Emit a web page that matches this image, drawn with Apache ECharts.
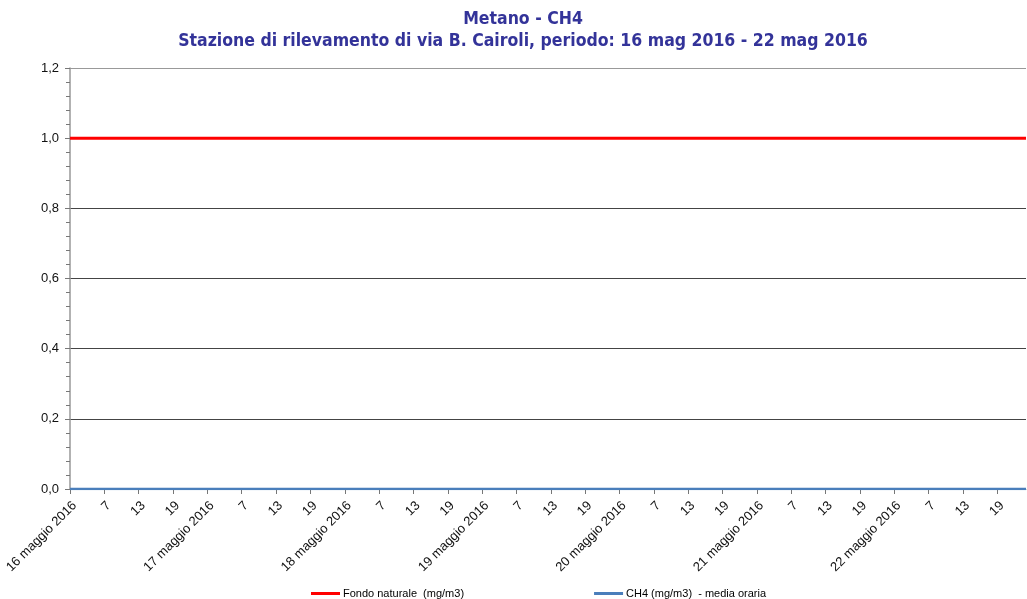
<!DOCTYPE html>
<html>
<head>
<meta charset="utf-8">
<script src="https://cdn.jsdelivr.net/npm/echarts@6/dist/echarts.min.js"></script>
<style>html,body{margin:0;padding:0;background:#fff}#c{width:1027px;height:599px}</style>
</head>
<body>
<div id="c"></div>
<script>
var days = ['16 maggio 2016','17 maggio 2016','18 maggio 2016','19 maggio 2016','20 maggio 2016','21 maggio 2016','22 maggio 2016'];
var hours = [1,2,3,4,5,6,7,8,9,10,11,12,13,14,15,16,17,18,19,20,21,22,23,24];
var yTicks = [0,0.2,0.4,0.6,0.8,1.0,1.2];
var fondoNaturale = [
1,1,1,1,1,1,1,1,1,1,1,1,1,1,1,1,1,1,1,1,1,1,1,1,
1,1,1,1,1,1,1,1,1,1,1,1,1,1,1,1,1,1,1,1,1,1,1,1,
1,1,1,1,1,1,1,1,1,1,1,1,1,1,1,1,1,1,1,1,1,1,1,1,
1,1,1,1,1,1,1,1,1,1,1,1,1,1,1,1,1,1,1,1,1,1,1,1,
1,1,1,1,1,1,1,1,1,1,1,1,1,1,1,1,1,1,1,1,1,1,1,1,
1,1,1,1,1,1,1,1,1,1,1,1,1,1,1,1,1,1,1,1,1,1,1,1,
1,1,1,1,1,1,1,1,1,1,1,1,1,1,1,1,1,1,1,1,1,1,1,1
];
var ch4 = [
0,0,0,0,0,0,0,0,0,0,0,0,0,0,0,0,0,0,0,0,0,0,0,0,
0,0,0,0,0,0,0,0,0,0,0,0,0,0,0,0,0,0,0,0,0,0,0,0,
0,0,0,0,0,0,0,0,0,0,0,0,0,0,0,0,0,0,0,0,0,0,0,0,
0,0,0,0,0,0,0,0,0,0,0,0,0,0,0,0,0,0,0,0,0,0,0,0,
0,0,0,0,0,0,0,0,0,0,0,0,0,0,0,0,0,0,0,0,0,0,0,0,
0,0,0,0,0,0,0,0,0,0,0,0,0,0,0,0,0,0,0,0,0,0,0,0,
0,0,0,0,0,0,0,0,0,0,0,0,0,0,0,0,0,0,0,0,0,0,0,0
];
var categories = [];
days.forEach(function(d){ hours.forEach(function(h){ categories.push(h === 1 ? d : String(h)); }); });

var titleStyle = { fontFamily: 'DejaVu Sans Condensed', fontWeight: 'bold', fontSize: 17.5, color: '#333399' };
var chart = echarts.init(document.getElementById('c'));
chart.setOption({
  animation: false,
  backgroundColor: '#fff',
  title: [
    { text: 'Metano - CH4', left: 523, textAlign: 'center', top: 10, padding: 0, textStyle: titleStyle },
    { text: 'Stazione di rilevamento di via B. Cairoli, periodo: 16 mag 2016 - 22 mag 2016', left: 523, textAlign: 'center', top: 32, padding: 0, textStyle: titleStyle }
  ],
  grid: { left: 70, right: 1, top: 68, bottom: 110, containLabel: false, outerBoundsMode: 'none' },
  legend: {
    bottom: 0, left: 311, itemGap: 130, padding: 0,
    itemWidth: 29, itemHeight: 3, icon: 'rect',
    textStyle: { fontFamily: 'Liberation Sans', fontSize: 11, color: '#000', padding: [0,0,0,-2] },
    data: ['Fondo naturale  (mg/m3)', 'CH4 (mg/m3)  - media oraria']
  },
  xAxis: {
    type: 'category', data: categories, boundaryGap: false,
    axisLine: { lineStyle: { color: '#999', width: 1 } },
    axisTick: { show: true, interval: 5, length: 5, lineStyle: { color: '#777' } },
    axisLabel: { interval: 5, rotate: 45, margin: 10, verticalAlign: 'top', fontFamily: 'Liberation Sans', fontSize: 13, color: '#111' },
    splitLine: { show: false }
  },
  yAxis: {
    type: 'value', min: 0, max: 1.2, interval: 0.2,
    axisLine: { show: true, lineStyle: { color: '#999', width: 1.5 } },
    axisTick: { show: true, length: 5, lineStyle: { color: '#777' } },
    minorTick: { show: true, splitNumber: 5, length: 4, lineStyle: { color: '#777' } },
    axisLabel: { margin: 11, fontFamily: 'Liberation Sans', fontSize: 13, color: '#111',
      formatter: function(v){ return v.toFixed(1).replace('.', ','); } },
    splitLine: { show: true, lineStyle: { color: ['#444','#444','#444','#444','#444','#444','#999'], width: 1 } }
  },
  series: [
    { name: 'Fondo naturale  (mg/m3)', type: 'line', data: fondoNaturale, showSymbol: false, symbol: 'none',
      itemStyle: { color: '#ff0000' }, lineStyle: { color: '#ff0000', width: 3 }, z: 3 },
    { name: 'CH4 (mg/m3)  - media oraria', type: 'line', data: ch4, showSymbol: false, symbol: 'none',
      itemStyle: { color: '#4a7ebb' }, lineStyle: { color: '#4a7ebb', width: 2.5 }, z: 4 }
  ]
});
</script>
</body>
</html>
